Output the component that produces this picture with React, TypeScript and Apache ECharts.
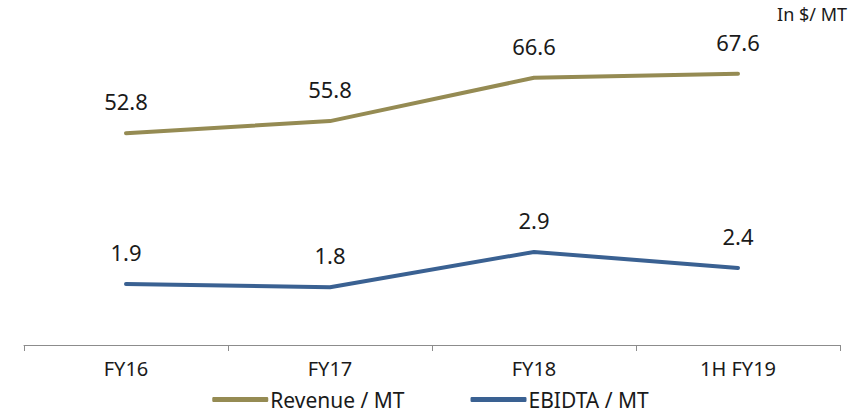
import React, { useEffect, useRef } from "react";
import * as echarts from "echarts";

const categories = ["FY16", "FY17", "FY18", "1H FY19"];
const revenue = [52.8, 55.8, 66.6, 67.6];
const ebidta = [1.9, 1.8, 2.9, 2.4];
const unitNote = "In $/ MT";

export default function App() {
  const ref = useRef<HTMLDivElement>(null);
  useEffect(() => {
    if (!ref.current) return;
    const chart = echarts.init(ref.current, null, { renderer: "svg" });
    const font = "'Noto Sans', 'Open Sans', sans-serif";
    const mkLabel = () => ({
      show: true,
      position: "top",
      distance: 21,
      fontSize: 22,
      color: "#1a1a1a",
      opacity: 1,
      fontFamily: font,
      formatter: (p: any) => Number(p.value).toFixed(1),
    });
    chart.setOption({
      animation: false,
      backgroundColor: "#ffffff",
      grid: { left: 24, right: 21, top: 24, bottom: 71, containLabel: false },
      graphic: [
        {
          type: "text",
          right: 14,
          top: 5,
          style: { text: unitNote, fontSize: 18, fill: "#1a1a1a", fontFamily: font },
        },
      ],
      legend: {
        bottom: 1,
        left: "center",
        itemWidth: 56,
        itemHeight: 5,
        itemGap: 66,
        icon: "roundRect",
        textStyle: { fontSize: 21, color: "#1a1a1a", fontFamily: font, padding: [0, 0, 0, -3] },
        data: ["Revenue / MT", "EBIDTA / MT"],
      },
      xAxis: {
        type: "category",
        data: categories,
        boundaryGap: true,
        axisLine: { lineStyle: { color: "#8c8c8c", width: 1 } },
        axisTick: { show: true, length: 6, lineStyle: { color: "#8c8c8c" } },
        axisLabel: { fontSize: 20, color: "#1a1a1a", margin: 13, fontFamily: font },
      },
      yAxis: [
        { type: "value", min: 0, max: 80, show: false, splitLine: { show: false } },
        { type: "value", min: 0, max: 10, show: false, splitLine: { show: false } },
      ],
      series: [
        {
          name: "Revenue / MT",
          type: "line",
          yAxisIndex: 0,
          data: revenue,
          symbol: "circle",
          symbolSize: 0.1,
          showSymbol: true,
          itemStyle: { color: "#958b53" },
          color: "#958b53",
          lineStyle: { width: 4, color: "#958b53", cap: "round" },
          label: mkLabel(),
        },
        {
          name: "EBIDTA / MT",
          type: "line",
          yAxisIndex: 1,
          data: ebidta,
          symbol: "circle",
          symbolSize: 0.1,
          showSymbol: true,
          itemStyle: { color: "#3a6192" },
          color: "#3a6192",
          lineStyle: { width: 4, color: "#3a6192", cap: "round" },
          label: mkLabel(),
        },
      ],
    });
    return () => chart.dispose();
  }, []);
  return <div ref={ref} style={{ width: 861, height: 416, position: "absolute", left: 0, top: 0 }} />;
}
